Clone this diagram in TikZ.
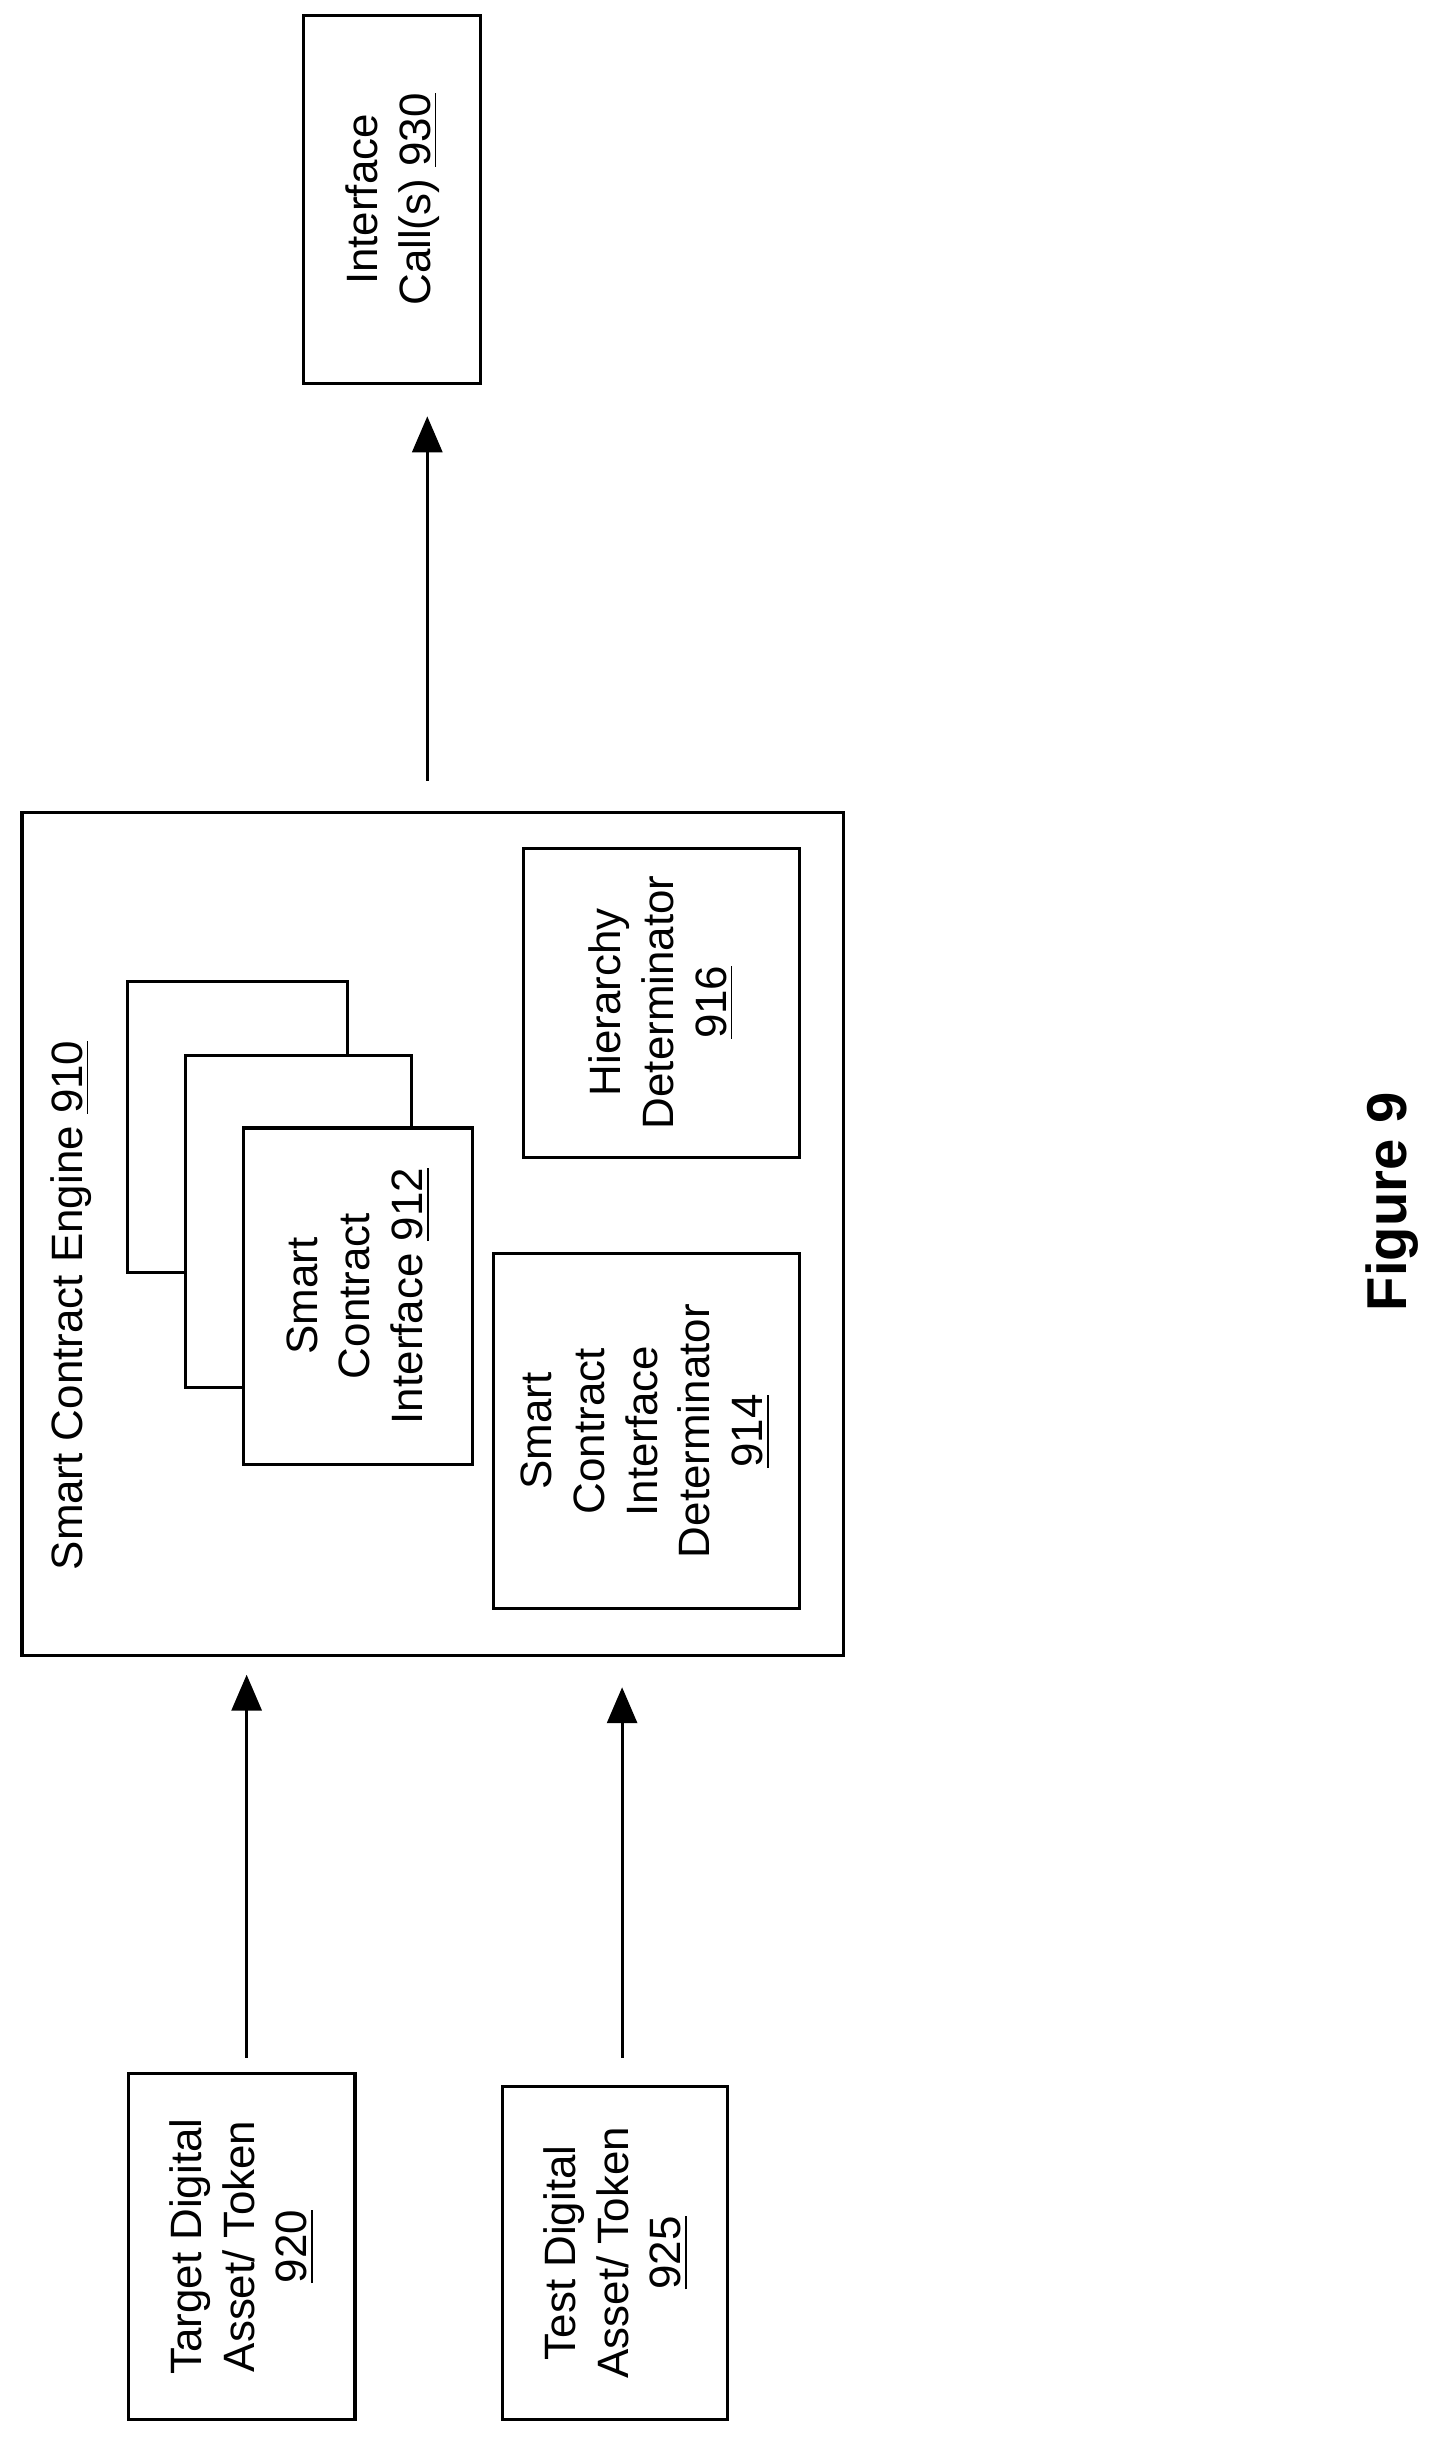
\documentclass[tikz,border=0pt]{standalone}
\usepackage{fontspec}
\setmainfont{Liberation Sans}
\usetikzlibrary{arrows.meta}
\begin{document}
\begin{tikzpicture}[x=0.01571cm,y=-0.01571cm,
  box/.style={draw,line width=0.9pt,fill=white},
  txt/.style={rotate=90,align=center,font=\fontsize{12.5}{15}\selectfont,inner sep=0pt},
  arr/.style={line width=0.9pt,-{Triangle[length=3.6mm,width=3mm]}}]
\useasboundingbox (0,0) rectangle (918,1557);
% interface calls
\draw[box] (193,10) rectangle (306,244);
\node[txt] (ic) at (250,127) {Interface\\Call(s) \underline{930}};
% engine
\draw[box] (14,517) rectangle (537,1054);
\node[txt,anchor=west] (eng) at (45,1000) {Smart Contract Engine \underline{910}};
% stack
\draw[box] (81,625) rectangle (221,810);
\draw[box] (118,672) rectangle (262,883);
\draw[box] (155,718) rectangle (301,932);
\node[txt] (sci) at (228,825) {Smart\\Contract\\Interface \underline{912}};
\draw[box] (333,540) rectangle (509,737);
\node[txt] (hd) at (421,638) {Hierarchy\\Determinator\\\underline{916}};
\draw[box] (314,798) rectangle (509,1024);
\node[txt] (scid) at (411,911) {Smart\\Contract\\Interface\\Determinator\\\underline{914}};
% inputs
\draw[box] (82,1320) rectangle (226,1540);
\node[txt] (tgt) at (154,1430) {Target Digital\\Asset/ Token\\\underline{920}};
\draw[box] (320,1328) rectangle (463,1540);
\node[txt] (tst) at (392,1434) {Test Digital\\Asset/ Token\\\underline{925}};
% arrows
\coordinate (a1) at (272,497); \coordinate (b1) at (272,265);
\coordinate (a2) at (157,1310); \coordinate (b2) at (157,1066);
\coordinate (a3) at (396,1310); \coordinate (b3) at (396,1074);
\draw[arr] (a1) -- (b1);
\draw[arr] (a2) -- (b2);
\draw[arr] (a3) -- (b3);
\node[rotate=90,font=\fontsize{16}{19}\selectfont\bfseries] (fig) at (886,765) {Figure 9};
\end{tikzpicture}
\end{document}
